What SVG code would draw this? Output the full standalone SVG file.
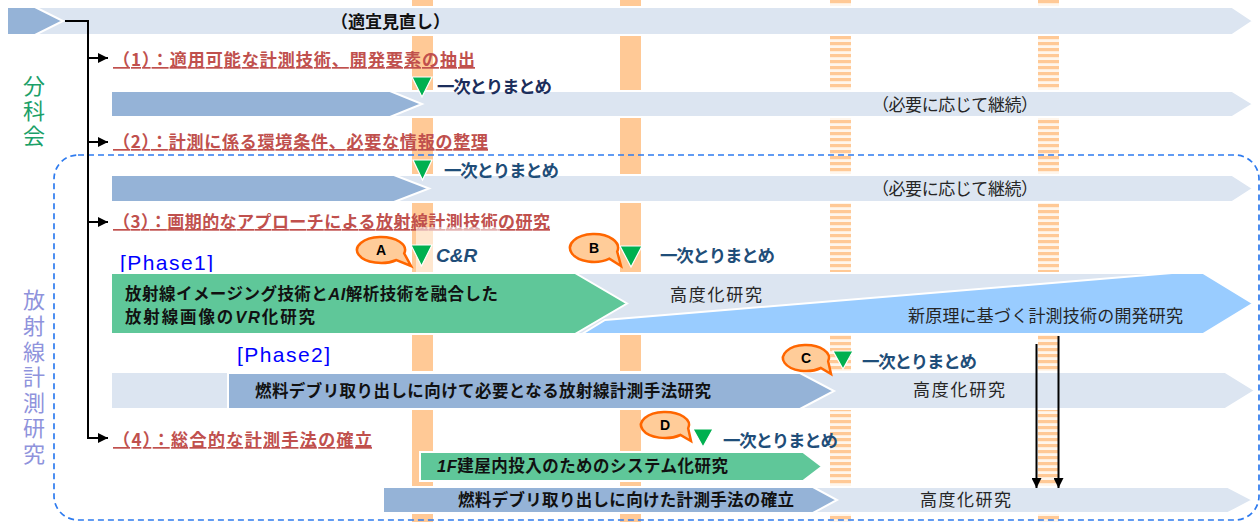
<svg xmlns="http://www.w3.org/2000/svg" width="1260" height="522" viewBox="0 0 1260 522">
<defs>
<style>
.jp{font-family:'Noto Sans CJK JP','Noto Sans CJK SC',sans-serif}
.lbl{font-family:'Noto Sans CJK JP',sans-serif;font-weight:700;font-size:17px;fill:#C0504D;text-decoration:underline}
.sum{font-family:'Noto Sans CJK JP',sans-serif;font-weight:700;font-size:17.5px;fill:#1F4E79}
.bt{font-family:'Noto Sans CJK JP',sans-serif;font-weight:700;font-size:16.5px;fill:#111}
.pt{font-family:'Noto Sans CJK JP',sans-serif;font-weight:400;font-size:17px;fill:#262626}
.ph{font-family:'Liberation Sans',Arial,sans-serif;font-size:21px;fill:#0000FF}
.lt{fill:#DCE5F1;stroke:#fff;stroke-width:2}
.dk{fill:#95B3D7;stroke:#fff;stroke-width:2}
.gr{fill:#5FC799;stroke:#fff;stroke-width:2}
.tri{fill:#00B050;stroke:#fff;stroke-width:1.2}
.bub{fill:#FFCC99;stroke:#FF6600;stroke-width:2.5}
.bl{font-family:'Liberation Sans',Arial,sans-serif;font-weight:700;font-size:14px;fill:#000;text-anchor:middle}
.con{stroke:#000;stroke-width:2;fill:none}
.it{font-family:'Liberation Sans',Arial,sans-serif;font-style:italic;font-weight:700}
.vt{font-family:'Noto Sans CJK JP',sans-serif;font-size:22px;writing-mode:vertical-rl}
</style>
<pattern id="stripe" width="21" height="6" patternUnits="userSpaceOnUse">
<rect width="21" height="6" fill="#FFF6EC"/>
<rect width="21" height="3.2" fill="#FFC996"/>
</pattern>
<marker id="ah" markerWidth="10" markerHeight="10" refX="10" refY="5" orient="auto" markerUnits="userSpaceOnUse">
<path d="M0,0 L10,5 L0,10 Z" fill="#000"/>
</marker>
</defs>
<rect width="1260" height="522" fill="#fff"/>

<g id="timeline-columns">
<rect x="412" y="0" width="21" height="522" fill="#FFC996"/>
<rect x="620" y="0" width="21" height="522" fill="#FFC996"/>
<rect x="830" y="0" width="21" height="522" fill="url(#stripe)"/>
<rect x="1038" y="0" width="21" height="522" fill="url(#stripe)"/>
</g>

<g id="group-labels">
<text class="vt" x="34" y="75" fill="#1BA068" letter-spacing="3">分科会</text>
<text class="vt" x="34" y="289" fill="#8F93DC" font-size="23" letter-spacing="3.6">放射線計測研究</text>
</g>

<g id="research-frame">
<rect x="54" y="155" width="1205" height="365" rx="24" fill="none" stroke="#2E7BEF" stroke-width="1.7" stroke-dasharray="6,4"/>
</g>

<g id="row0">
<polygon class="lt" points="7,7 1232,7 1253,21 1232,35 7,35"/>
<polygon class="dk" points="7,7 35,7 63,21 35,35 7,35"/>
<text class="jp" x="331" y="28" font-size="17" font-weight="700" fill="#111">（適宜見直し）</text>
</g>

<g id="item1">
<text class="lbl" x="113" y="66" textLength="362" lengthAdjust="spacing">（1）：適用可能な計測技術、開発要素の抽出</text>
<polygon class="lt" points="111,91 1232,91 1253,104 1232,117 111,117"/>
<polygon class="dk" points="111,91 390,91 422,104 390,117 111,117"/>
<text class="pt" x="872" y="111" textLength="166" lengthAdjust="spacing">（必要に応じて継続）</text>
<polygon class="tri" points="412,77 432,77 422,97"/>
<text class="sum" x="437" y="93" textLength="115" lengthAdjust="spacing" style="fill:#1C2E5C">一次とりまとめ</text>
</g>

<g id="item2">
<text class="lbl" x="113" y="148" textLength="375" lengthAdjust="spacing">（2）：計測に係る環境条件、必要な情報の整理</text>
<polygon class="lt" points="111,175 1232,175 1253,188.5 1232,202 111,202"/>
<polygon class="dk" points="111,175 394,175 429,188.5 394,202 111,202"/>
<text class="pt" x="872" y="195" textLength="166" lengthAdjust="spacing">（必要に応じて継続）</text>
<polygon class="tri" points="413,160 432,160 422.5,180"/>
<text class="sum" x="444" y="177" textLength="115" lengthAdjust="spacing">一次とりまとめ</text>
</g>

<g id="item3">
<text class="lbl" x="113" y="228" textLength="437" lengthAdjust="spacing">（3）：画期的なアプローチによる放射線計測技術の研究</text>
<text class="ph" x="120" y="270" textLength="93" lengthAdjust="spacing">[Phase1]</text>
<polygon class="lt" points="560,273 1203,273 1253,303.5 1203,334 560,334"/>
<polygon points="582,334 605,320 1172,273 1203,273 1253,303.5 1203,334" fill="#99CCFF" stroke="#fff" stroke-width="2"/>
<polygon class="gr" points="111,273 575,273 627,303.5 575,334 111,334"/>
<text class="bt" x="125" y="300" font-size="15.5" textLength="373" lengthAdjust="spacing">放射線イメージング技術と<tspan class="it">AI</tspan>解析技術を融合した</text>
<text class="bt" x="125" y="323" font-size="15.5" textLength="190" lengthAdjust="spacing">放射線画像の<tspan class="it">VR</tspan>化研究</text>
<text class="pt" x="670" y="301" textLength="92" lengthAdjust="spacing">高度化研究</text>
<text class="pt" x="908" y="322" textLength="275" lengthAdjust="spacing">新原理に基づく計測技術の開発研究</text>
</g>

<g id="milestone-A">
<rect x="416" y="227" width="84" height="46" fill="#fff" opacity="0.55"/>
<path class="bub" d="M404.2,253.4 L411,266 L396.4,260 A24,13 0 1 1 404.2,253.4 Z"/>
<text class="bl" x="381" y="255">A</text>
<polygon class="tri" points="411,245 432,245 421.5,266"/>
<text x="436" y="262" font-family="'Liberation Sans',Arial,sans-serif" font-size="19" font-weight="700" font-style="italic" fill="#1F4E79">C&amp;R</text>
</g>

<g id="milestone-B">
<path class="bub" d="M617.2,251.6 L621,266 L609.4,258.7 A24,14 0 1 1 617.2,251.6 Z"/>
<text class="bl" x="594" y="253">B</text>
<polygon class="tri" points="620,246 642,246 631,267"/>
<text class="sum" x="660" y="262" textLength="115" lengthAdjust="spacing">一次とりまとめ</text>
</g>

<g id="phase2">
<text class="ph" x="237" y="362" textLength="93" lengthAdjust="spacing">[Phase2]</text>
<polygon class="lt" points="111,372 1225,372 1255,390.5 1225,409 111,409"/>
<polygon class="dk" points="228,373 800,373 834,391 800,409 228,409"/>
<text class="bt" x="255" y="397" textLength="456" lengthAdjust="spacing">燃料デブリ取り出しに向けて必要となる放射線計測手法研究</text>
<text class="pt" x="913" y="396" textLength="92" lengthAdjust="spacing">高度化研究</text>
</g>

<g id="milestone-C">
<path class="bub" d="M828.2,361.4 L831,374 L820.8,368 A23,13 0 1 1 828.2,361.4 Z"/>
<text class="bl" x="806" y="363">C</text>
<polygon class="tri" points="833,351 853,351 843,369"/>
<text class="sum" x="862" y="368" textLength="115" lengthAdjust="spacing">一次とりまとめ</text>
</g>

<g id="item4">
<text class="lbl" x="113" y="446" textLength="259" lengthAdjust="spacing">（4）：総合的な計測手法の確立</text>
<polygon class="gr" points="420,452 803,452 822,466.5 803,481 420,481"/>
<text class="bt" x="437" y="472" textLength="291" lengthAdjust="spacing"><tspan class="it">1F</tspan>建屋内投入のためのシステム化研究</text>
<polygon class="lt" points="383,487 1228,487 1253,500 1228,513 383,513"/>
<polygon class="dk" points="383,487 813,487 837,500 813,513 383,513"/>
<text class="bt" x="458" y="506" textLength="336" lengthAdjust="spacing">燃料デブリ取り出しに向けた計測手法の確立</text>
<text class="pt" x="920" y="506" textLength="91" lengthAdjust="spacing">高度化研究</text>
</g>

<g id="milestone-D">
<path class="bub" d="M688.2,428.4 L691,441 L680.4,435 A24,13 0 1 1 688.2,428.4 Z"/>
<text class="bl" x="665" y="430">D</text>
<polygon class="tri" points="693,429 713,429 703,447"/>
<text class="sum" x="723" y="447" textLength="115" lengthAdjust="spacing">一次とりまとめ</text>
</g>

<g id="connectors">
<polyline class="con" points="65,21 88,21 88,438"/>
<line class="con" x1="87" y1="58" x2="108" y2="58" marker-end="url(#ah)"/>
<line class="con" x1="87" y1="142" x2="108" y2="142" marker-end="url(#ah)"/>
<line class="con" x1="87" y1="222" x2="108" y2="222" marker-end="url(#ah)"/>
<line class="con" x1="87" y1="438" x2="108" y2="438" marker-end="url(#ah)"/>
<line class="con" x1="1036.5" y1="344" x2="1036.5" y2="488" stroke-width="1.8" marker-end="url(#ah)"/>
<line class="con" x1="1058.5" y1="336" x2="1058.5" y2="488" stroke-width="1.8" marker-end="url(#ah)"/>
</g>
</svg>
